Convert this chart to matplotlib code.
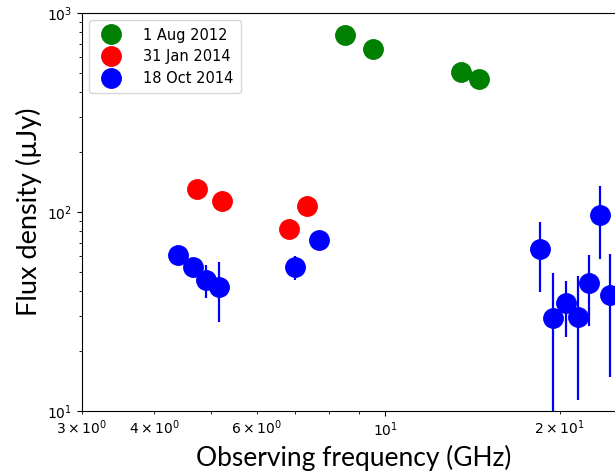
import matplotlib
matplotlib.use("Agg")
import matplotlib.pyplot as plt
import numpy as np

# 1 Aug 2012
aug12_freq = [8.53, 9.53, 13.5, 14.5]
aug12_flux = [774, 659, 506, 466]
aug12_elo = [5, 5, 5, 5]
aug12_ehi = [5, 5, 5, 5]

# 31 Jan 2014
jan14_freq = [4.73, 5.22, 6.82, 7.33]
jan14_flux = [130.6, 113.6, 82.2, 107.2]
jan14_elo = [3, 3, 8, 3]
jan14_ehi = [3, 3, 3, 3]

# 18 Oct 2014
oct14_freq = [4.39, 4.66, 4.90, 5.16, 6.98, 7.69,
              18.46, 19.45, 20.48, 21.47, 22.44, 23.45, 24.4]
oct14_flux = [60.8, 52.9, 45.5, 42.0, 52.9, 72.3,
              65.2, 29.3, 34.9, 29.7, 43.9, 96.6, 38.3]
oct14_lo = [58, 50, 37.0, 28.0, 45.5, 70,
            39.6, 8.0, 23.5, 11.4, 26.7, 58.1, 14.8]
oct14_hi = [63, 55, 54.2, 56.1, 60.0, 75,
            89.1, 49.3, 45.0, 47.6, 60.8, 135, 61.5]

fig = plt.figure(figsize=(6.15, 4.73), dpi=100)
ax = fig.add_axes([0.1333, 0.131, 0.8846, 0.8415])

def yerr(flux, lo, hi, absolute=True):
    f = np.array(flux); l = np.array(lo); h = np.array(hi)
    if absolute:
        return [f - l, h - f]
    return [l, h]

ms = 14
ax.errorbar(aug12_freq, aug12_flux, yerr=yerr(aug12_flux, aug12_elo, aug12_ehi, False),
            fmt='o', color='green', ms=ms, elinewidth=1.6, capsize=0, label='1 Aug 2012')
ax.errorbar(jan14_freq, jan14_flux, yerr=yerr(jan14_flux, jan14_elo, jan14_ehi, False),
            fmt='o', color='red', ms=ms, elinewidth=1.6, capsize=0, label='31 Jan 2014')
ax.errorbar(oct14_freq, oct14_flux, yerr=yerr(oct14_flux, oct14_lo, oct14_hi),
            fmt='o', color='blue', ms=ms, elinewidth=1.6, capsize=0, label='18 Oct 2014')

ax.set_xscale('log')
ax.set_yscale('log')
ax.set_xlim(3, 26)
ax.set_ylim(10, 1000)

ax.set_xlabel('Observing frequency (GHz)', fontsize=19, family='Lato')
ax.set_ylabel('Flux density (µJy)', fontsize=19.5, family='Lato')
ax.tick_params(labelsize=10)

ax.legend(loc='upper left', fontsize=10.5, handletextpad=1.2, borderpad=0.5,
          labelspacing=0.45)

fig.savefig('out.png', dpi=100)
